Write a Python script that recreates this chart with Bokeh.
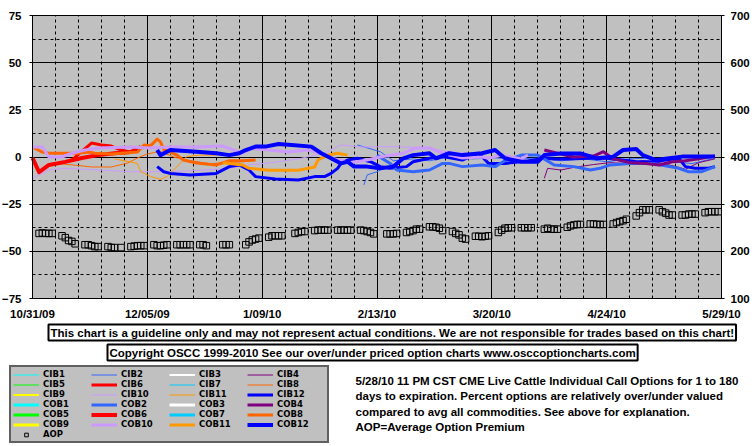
import pandas as pd
from bokeh.plotting import figure
from bokeh.models import (Range1d, LinearAxis, FixedTicker, Legend, LegendItem,
                          Label, ColumnDataSource, BoxAnnotation)
from bokeh.embed import file_html
from bokeh.resources import INLINE

FONT = "Liberation Sans"
LEGEND_FONT = "DejaVu Sans"
nan = float("nan")

# ---------------- axes ----------------
x_start = "2009-10-31"
x_end = "2010-05-29"
x_tick_dates = ["2009-10-31", "2009-12-05", "2010-01-09", "2010-02-13",
                "2010-03-20", "2010-04-24", "2010-05-29"]
x_tick_labels = ["10/31/09", "12/05/09", "1/09/10", "2/13/10",
                 "3/20/10", "4/24/10", "5/29/10"]
left_ticks = [-75, -50, -25, 0, 25, 50, 75]
left_minor = [-62.5, -37.5, -12.5, 12.5, 37.5, 62.5]
right_ticks = [100, 200, 300, 400, 500, 600, 700]
left_lim = (-75, 75)
right_lim = (100, 700)

# ---------------- series (percent over/under valued) ----------------
cib6_dates = ["2009-11-12", "2009-11-15", "2009-11-18", "2009-11-21", "2009-11-24",
              "2009-11-27", "2009-11-30", "2009-12-03"]
cib6_vals = [-1.6, 3, 7.4, 6.4, 5.8, 3.7, 2.6, 5.3]

cob6_dates = ["2009-10-31", "2009-11-02", "2009-11-05", "2009-11-10", "2009-11-15",
              "2009-11-20", "2009-11-25", "2009-11-30", "2009-12-03"]
cob6_vals = [-0.5, -8, -4.2, -2.6, -0.5, 1, 2, 2.6, 5.3]

cib8_dates = ["2009-11-08", "2009-11-14", "2009-11-18", "2009-11-24", "2009-11-29",
              "2009-12-02", "2009-12-05", "2009-12-09", "2009-12-13", "2009-12-18",
              "2009-12-24", "2009-12-30", "2010-01-05"]
cib8_vals = [-3.5, -4.5, -5.3, -5.3, -3.2, -0.5, 1.6, 3, 0, -2, -3.5, -3, -2]

cob8_dates = ["2009-10-31", "2009-11-03", "2009-11-05", "2009-11-09", "2009-11-14",
              "2009-11-17", "2009-11-19", "2009-11-24", "2009-11-27", "2009-12-02",
              "2009-12-04", "2009-12-06", "2009-12-08", "2009-12-09", "2009-12-10",
              "2009-12-12", "2009-12-14", "2009-12-16", "2009-12-20", "2009-12-26",
              "2009-12-30", "2010-01-03", "2010-01-07"]
cob8_vals = [5.3, 2.6, 2, 2, 2, 2.6, 2, 1.6, 2, 2.6, 6.4, 6, 9.5, 8, 4,
             2.6, 1, -1.6, -3.2, -4.2, -2, -2, -1.6]

cib11_dates = ["2009-11-25", "2009-12-02", "2009-12-03", "2009-12-06", "2009-12-09",
               "2009-12-11", "2009-12-15", "2009-12-17", "2009-12-21", "2009-12-26"]
cib11_vals = [-1, -3.4, -7.8, -10.4, -11.8, -10.4, -3.4, 0.2, 1, 1]

cob11_dates = ["2009-12-28", "2010-01-03", "2010-01-05", "2010-01-11", "2010-01-20",
               "2010-01-25", "2010-01-26", "2010-01-29", "2010-02-01", "2010-02-04"]
cob11_vals = [-3, -4.2, -6, -7, -7, -5.3, -1.6, 1, 2, 1]

cib10_dates = ["2009-10-31", "2009-11-05", "2009-11-10", "2009-11-20", "2009-11-30",
               "2009-12-10", "2009-12-20", "2009-12-30", "2010-01-05", "2010-01-12",
               "2010-01-20", "2010-01-28", "2010-02-02", "2010-02-08", "2010-02-18",
               "2010-02-28", "2010-03-06", "2010-03-12", "2010-03-17"]
cib10_vals = [-11.3, -6.9, -6, -6.9, -7.8, -7.8, -7.2, -6, -4.2, -3, -1, 2, 6.4,
              5.3, 5.5, 4.8, 3, 2, 1]

cob10_dates = ["2009-10-31", "2009-11-03", "2009-11-05", "2009-11-09", "2009-11-12",
               "2009-11-16", "2009-11-20", "2009-11-30", "2009-12-05", "2009-12-12",
               "2009-12-20", "2009-12-28", "2010-01-03", "2010-01-06", "2010-01-11",
               "2010-01-17", "2010-01-23", "2010-01-27", "2010-01-30", "2010-02-05",
               "2010-02-10", "2010-02-14", "2010-02-21", "2010-02-25", "2010-03-01",
               "2010-03-05", "2010-03-11", "2010-03-17", "2010-03-19", "2010-03-23",
               "2010-03-29", "2010-03-31"]
cob10_vals = [5.3, 5.3, 0, 0, 2, 3.7, 4.8, 5.3, 4.8, 5.3, 5.3, 5.8, 2, 4.5, 3.7,
              2.6, 3.7, 2, -0.5, -3, -1.6, 0, 2, 4.8, 4.8, 2, -0.5, 0, -0.7, 1, -1, 1]

cib12_dates = ["2009-12-08", "2009-12-10", "2009-12-12", "2009-12-18", "2009-12-26",
               "2009-12-30", "2010-01-02", "2010-01-05", "2010-01-07", "2010-01-13",
               "2010-01-20", "2010-01-25", "2010-01-28", "2010-01-30", "2010-02-01",
               "2010-02-02", "2010-02-04", "2010-02-07", "2010-02-11", "2010-02-14",
               "2010-02-17", "2010-02-22", "2010-02-24", "2010-03-01", "2010-03-05",
               "2010-03-11", "2010-03-16", "2010-03-19", "2010-03-24", "2010-03-31",
               "2010-04-05", "2010-04-08", "2010-04-12", "2010-04-19", "2010-04-24",
               "2010-04-29", "2010-05-03", "2010-05-08", "2010-05-12", "2010-05-16",
               "2010-05-18", "2010-05-21", "2010-05-25", "2010-05-27"]
cib12_vals = [-5.1, -7.8, -8.7, -9.5, -8.7, -5.1, -4.2, -6.9, -10.4, -11.7, -12.2,
              -10.4, -10.4, -8.7, -6, -3.4, -1.6, -0.7, -2.5, -5.1, -6, -5.1, -2.5,
              -0.7, 0.2, -1.6, 2, -3.4, -3.4, -2.1, -0.7, -1, -1, -0.7, -0.7, -1.6,
              -2.5, -2.5, -1.6, -0.7, -5.1, -6, -6, -5.1]

cob12_dates = ["2009-12-08", "2009-12-09", "2009-12-12", "2009-12-20", "2009-12-26",
               "2009-12-30", "2010-01-02", "2010-01-04", "2010-01-07", "2010-01-10",
               "2010-01-14", "2010-01-18", "2010-01-24", "2010-01-27", "2010-01-30",
               "2010-02-02", "2010-02-04", "2010-02-06", "2010-02-10", "2010-02-14",
               "2010-02-18", "2010-02-21", "2010-02-24", "2010-03-01", "2010-03-03",
               "2010-03-07", "2010-03-11", "2010-03-17", "2010-03-21", "2010-03-24",
               "2010-03-29", "2010-04-03", "2010-04-05", "2010-04-10", "2010-04-16",
               "2010-04-21", "2010-04-26", "2010-04-29", "2010-05-03", "2010-05-05",
               "2010-05-09", "2010-05-13", "2010-05-17", "2010-05-21", "2010-05-27"]
cob12_vals = [3.7, 1, 3.7, 2.8, 2, 1, 2, 3.7, 5.5, 5.5, 6.9, 6.4, 5.5, 2, -0.7,
              -3.4, -2.5, -5.1, -5.1, -6, -5.1, -0.7, 1, 2, -0.7, 2, 1, 2, 3.7,
              -0.7, -2.5, -2.5, 1, 1.9, 1.9, -0.7, 0.2, 3.7, 4.2, 1, -1.6, -0.7,
              0.2, 0.2, 0.2]

cib2_dates = ["2010-02-09", "2010-02-10", "2010-02-13", "2010-02-16", "2010-02-16",
              "2010-02-07", "2010-02-14", "2010-02-18", "2010-02-24", "2010-03-01",
              "2010-03-07", "2010-03-14", "2010-03-21", "2010-03-28", "2010-04-04",
              "2010-04-10", "2010-04-17", "2010-04-24", "2010-05-01", "2010-05-08",
              "2010-05-14", "2010-05-20", "2010-05-26"]
cib2_vals = [-14.8, -9.5, -7.8, -5, nan, 6.4, 2.8, -2, -1, -2, 0, -1, -0.5, -1,
             -0.5, -2, -1, -2.5, -1, -0.5, -2.5, -3.5, -1]

cob2_dates = ["2010-02-13", "2010-02-17", "2010-02-19", "2010-02-24", "2010-03-01",
              "2010-03-05", "2010-03-07", "2010-03-11", "2010-03-17", "2010-03-21",
              "2010-03-24", "2010-03-29", "2010-04-03", "2010-04-08", "2010-04-14",
              "2010-04-19", "2010-04-22", "2010-04-25", "2010-05-01", "2010-05-08",
              "2010-05-16", "2010-05-19", "2010-05-23", "2010-05-27"]
cob2_vals = [1, -3.4, -6.9, -7.8, -6.9, -3.4, -3.4, -5.1, -4.2, -5.1, -2, 1, 1,
             -4.2, -5.1, -6.9, -6, -4.2, -3.4, -3.4, -6, -7.8, -7.8, -5.1]

cib4_dates = ["2010-04-05", "2010-04-06", "2010-04-10", "2010-04-14", "2010-04-20",
              "2010-04-25", "2010-04-30", "2010-05-05", "2010-05-10", "2010-05-15",
              "2010-05-18", "2010-05-22", "2010-05-27"]
cib4_vals = [-11.3, -6, -6.9, -5.5, -4, -3, -3.5, -2, -3, -5, -6.5, -3, -1]

cob4_dates = ["2010-04-05", "2010-04-09", "2010-04-14", "2010-04-20", "2010-04-23",
              "2010-04-26", "2010-05-01", "2010-05-06", "2010-05-10", "2010-05-14",
              "2010-05-18", "2010-05-22", "2010-05-27"]
cob4_vals = [3.7, 2, 0, 0.5, 2.8, -1, -3, -3.5, -4.2, -2.5, -2, -1, 0.5]

# series listed in the legend but without values in this period
no_dates = ["2009-10-31"]
no_vals = [nan]

# ---------------- average option premium (right axis) ----------------
aop_dates = [
    "2009-11-02", "2009-11-03", "2009-11-04", "2009-11-05", "2009-11-06",
    "2009-11-09", "2009-11-10", "2009-11-11", "2009-11-12", "2009-11-13",
    "2009-11-16", "2009-11-17", "2009-11-18", "2009-11-19", "2009-11-20",
    "2009-11-23", "2009-11-24", "2009-11-25", "2009-11-27",
    "2009-11-30", "2009-12-01", "2009-12-02", "2009-12-03", "2009-12-04",
    "2009-12-07", "2009-12-08", "2009-12-09", "2009-12-10", "2009-12-11",
    "2009-12-14", "2009-12-15", "2009-12-16", "2009-12-17", "2009-12-18",
    "2009-12-21", "2009-12-22", "2009-12-23",
    "2009-12-28", "2009-12-29", "2009-12-30",
    "2010-01-04", "2010-01-05", "2010-01-06", "2010-01-07", "2010-01-08",
    "2010-01-11", "2010-01-12", "2010-01-13", "2010-01-14", "2010-01-15",
    "2010-01-19", "2010-01-20", "2010-01-21", "2010-01-22",
    "2010-01-25", "2010-01-26", "2010-01-27", "2010-01-28", "2010-01-29",
    "2010-02-01", "2010-02-02", "2010-02-03", "2010-02-04", "2010-02-05",
    "2010-02-08", "2010-02-09", "2010-02-10", "2010-02-11", "2010-02-12",
    "2010-02-16", "2010-02-17", "2010-02-18", "2010-02-19",
    "2010-02-22", "2010-02-23", "2010-02-24", "2010-02-25", "2010-02-26",
    "2010-03-01", "2010-03-02", "2010-03-03", "2010-03-04", "2010-03-05",
    "2010-03-08", "2010-03-09", "2010-03-10", "2010-03-11", "2010-03-12",
    "2010-03-15", "2010-03-16", "2010-03-17", "2010-03-18", "2010-03-19",
    "2010-03-22", "2010-03-23", "2010-03-24", "2010-03-25", "2010-03-26",
    "2010-03-29", "2010-03-30", "2010-03-31", "2010-04-01",
    "2010-04-05", "2010-04-06", "2010-04-07", "2010-04-08", "2010-04-09",
    "2010-04-12", "2010-04-13", "2010-04-14", "2010-04-15", "2010-04-16",
    "2010-04-19", "2010-04-20", "2010-04-21", "2010-04-22", "2010-04-23",
    "2010-04-26", "2010-04-27", "2010-04-28", "2010-04-29", "2010-04-30",
    "2010-05-03", "2010-05-04", "2010-05-05", "2010-05-06", "2010-05-07",
    "2010-05-10", "2010-05-11", "2010-05-12", "2010-05-13", "2010-05-14",
    "2010-05-17", "2010-05-18", "2010-05-19", "2010-05-20", "2010-05-21",
    "2010-05-24", "2010-05-25", "2010-05-26", "2010-05-27", "2010-05-28",
]
aop_vals = [
    238, 239, 238, 238, 238,
    233, 229, 223, 221, 216,
    214, 214, 212, 210, 210,
    210, 208, 208, 208,
    210, 211, 212, 212, 212,
    214, 212, 212, 213, 214,
    214, 214, 214, 214, 214,
    214, 214, 212,
    214, 214, 214,
    214, 220, 224, 226, 228,
    230, 233, 233, 233, 233,
    238, 240, 242, 242,
    244, 245, 245, 245, 245,
    245, 245, 245, 245, 245,
    245, 244, 242, 240, 237,
    237, 237, 237, 238,
    240, 242, 244, 247, 247,
    252, 252, 251, 249, 244,
    242, 238, 235, 228, 226,
    232, 232, 231, 232, 233,
    240, 245, 249, 250, 250,
    250, 250, 250, 250,
    247, 249, 247, 247, 247,
    251, 254, 256, 257, 257,
    258, 258, 257, 257, 257,
    258, 261, 263, 265, 268,
    275, 282, 288, 288, 288,
    288, 284, 281, 277, 277,
    277, 277, 279, 279, 279,
    282, 284, 284, 284, 284,
]

series_names = ["CIB1", "CIB2", "CIB3", "CIB4", "CIB5", "CIB6", "CIB7", "CIB8",
                "CIB9", "CIB10", "CIB11", "CIB12",
                "COB1", "COB2", "COB3", "COB4", "COB5", "COB6", "COB7", "COB8",
                "COB9", "COB10", "COB11", "COB12"]
series_data = {
    "CIB1": (no_dates, no_vals), "CIB2": (cib2_dates, cib2_vals),
    "CIB3": (no_dates, no_vals), "CIB4": (cib4_dates, cib4_vals),
    "CIB5": (no_dates, no_vals), "CIB6": (cib6_dates, cib6_vals),
    "CIB7": (no_dates, no_vals), "CIB8": (cib8_dates, cib8_vals),
    "CIB9": (no_dates, no_vals), "CIB10": (cib10_dates, cib10_vals),
    "CIB11": (cib11_dates, cib11_vals), "CIB12": (cib12_dates, cib12_vals),
    "COB1": (no_dates, no_vals), "COB2": (cob2_dates, cob2_vals),
    "COB3": (no_dates, no_vals), "COB4": (cob4_dates, cob4_vals),
    "COB5": (no_dates, no_vals), "COB6": (cob6_dates, cob6_vals),
    "COB7": (no_dates, no_vals), "COB8": (cob8_dates, cob8_vals),
    "COB9": (no_dates, no_vals), "COB10": (cob10_dates, cob10_vals),
    "COB11": (cob11_dates, cob11_vals), "COB12": (cob12_dates, cob12_vals),
}
palette = ["#00FFFF", "#3366FF", "#FFFFFF", "#800080", "#00FF00", "#FF0000",
           "#00CCFF", "#FF6600", "#FFFF00", "#CC99FF", "#FF9900", "#0000FF"]
widths = {"CIB3": 2, "CIB6": 3, "CIB9": 2, "CIB12": 3, "COB6": 4, "COB12": 4}

disclaimer = ("This chart is a guideline only and may not represent actual conditions. "
              "We are not responsible for trades based on this chart!")
copyright_text = ("Copyright OSCC 1999-2010 See our over/under priced option charts "
                  "www.osccoptioncharts.com")
note_lines = ["5/28/10 11 PM CST CME Live Cattle Individual Call Options for 1 to 180",
              "days to expiration. Percent options are relatively over/under valued",
              "compared to avg all commodities. See above for explanation.",
              "AOP=Average Option Premium"]

# ---------------- layout (canvas pixels) ----------------
W, H = 754, 445
PLOT_L, PLOT_R, PLOT_T, PLOT_B = 32, 721, 15, 298


def ms(d):
    return float(pd.Timestamp(d).value // 10**6)


x0, x1 = ms(x_start), ms(x_end)
mpp = (x1 - x0) / (PLOT_R - PLOT_L)
upp = (left_lim[1] - left_lim[0]) / (PLOT_B - PLOT_T)
y_lo = left_lim[0] - (H - PLOT_B) * upp
y_hi = left_lim[1] + PLOT_T * upp
k = (right_lim[1] - right_lim[0]) / (left_lim[1] - left_lim[0])
r0 = right_lim[0] - k * left_lim[0]

p = figure(width=W, height=H, x_axis_type="datetime", title=None,
           x_range=Range1d(x0 - PLOT_L * mpp, x1 + (W - PLOT_R) * mpp),
           y_range=Range1d(y_lo, y_hi), output_backend="svg", toolbar_location=None,
           min_border_left=0, min_border_right=0, min_border_top=0,
           min_border_bottom=0)
p.background_fill_color = "white"
p.border_fill_color = "white"
p.outline_line_color = None

p.add_layout(BoxAnnotation(left=x0, right=x1, bottom=left_lim[0], top=left_lim[1],
                           fill_color="#C0C0C0", fill_alpha=1, line_color="black",
                           line_width=1, level="image"))

major_ms = [ms(d) for d in x_tick_dates]
minor_ms = []
t = pd.Timestamp(x_start)
while t <= pd.Timestamp(x_end):
    if ms(t) not in major_ms:
        minor_ms.append(ms(t))
    t += pd.Timedelta(days=7)

xa = p.xaxis[0]
xa.ticker = FixedTicker(ticks=major_ms, minor_ticks=minor_ms)
xa.major_label_overrides = {m: lab for m, lab in zip(major_ms, x_tick_labels)}
xa.fixed_location = left_lim[0]
xa.bounds = (x0, x1)
ya = p.yaxis[0]
ya.ticker = FixedTicker(ticks=left_ticks, minor_ticks=left_minor)
ya.fixed_location = x0
ya.bounds = left_lim

p.extra_y_ranges = {"aop": Range1d(r0 + k * y_lo, r0 + k * y_hi)}
ra = LinearAxis(y_range_name="aop", ticker=FixedTicker(ticks=right_ticks))
ra.fixed_location = x1
ra.bounds = right_lim
p.add_layout(ra, "right")

for ax in (xa, ya, ra):
    ax.axis_line_color = "black"
    ax.major_tick_line_color = "black"
    ax.minor_tick_line_color = None
    ax.major_label_text_font = FONT
    ax.major_label_text_font_style = "bold"
    ax.major_label_text_font_size = "11.5px"
    ax.major_label_text_color = "black"
xa.major_tick_out = 0
xa.major_tick_in = 0
xa.major_label_standoff = 5
ya.major_tick_out = 3
ya.major_tick_in = 0
ya.major_label_standoff = 7
ra.major_tick_out = 3
ra.major_tick_in = 0
ra.major_label_standoff = 6

xg, yg = p.xgrid[0], p.ygrid[0]
xg.cross_bounds = left_lim
yg.cross_bounds = (x0, x1)
for g in (xg, yg):
    g.grid_line_color = "black"
    g.grid_line_width = 1
    g.minor_grid_line_color = "black"
    g.minor_grid_line_width = 1
    g.minor_grid_line_dash = "3 3"

items = []
for i, name in enumerate(series_names):
    dates, vals = series_data[name]
    src = ColumnDataSource(dict(x=pd.to_datetime(dates), y=vals))
    w = widths.get(name, 1 if name.startswith("CIB") else 3)
    r = p.line("x", "y", source=src, line_color=palette[i % 12], line_width=w,
               line_join="round")
    items.append(LegendItem(label=name, renderers=[r]))

aop_src = ColumnDataSource(dict(x=pd.to_datetime(aop_dates), y=aop_vals))
aop_r = p.scatter("x", "y", source=aop_src, y_range_name="aop", marker="square",
                  size=6.5, fill_color=None, line_color="black", line_width=1)
items.append(LegendItem(label="AOP", renderers=[aop_r]))

legend = Legend(items=items, location=(9, H - 443), orientation="horizontal", ncols=4,
                background_fill_color="#C0C0C0", background_fill_alpha=1,
                border_line_color="black", border_line_width=2,
                label_text_font=LEGEND_FONT, label_text_font_style="bold",
                label_text_font_size="8.5px", label_text_color="black",
                glyph_width=26, glyph_height=9,
                label_height=9, label_width=48, label_standoff=4, spacing=0,
                padding=2, margin=0, level="annotation")
p.add_layout(legend)

box_kw = dict(x_units="screen", y_units="screen", text_font=FONT,
              text_font_style="bold", text_font_size="11.5px", text_color="black",
              text_baseline="top", text_align="left", level="overlay")
p.add_layout(Label(x=48, y=H - 324, text=disclaimer, background_fill_color="white",
                   border_line_color="black", border_line_width=2, padding=2, **box_kw))
p.add_layout(Label(x=107, y=H - 344, text=copyright_text, background_fill_color="white",
                   border_line_color="black", border_line_width=2, padding=2, **box_kw))
for j, line in enumerate(note_lines):
    p.add_layout(Label(x=355, y=H - 374 - 15.5 * j, text=line, **box_kw))

open("out.html", "w").write(file_html(p, INLINE))
